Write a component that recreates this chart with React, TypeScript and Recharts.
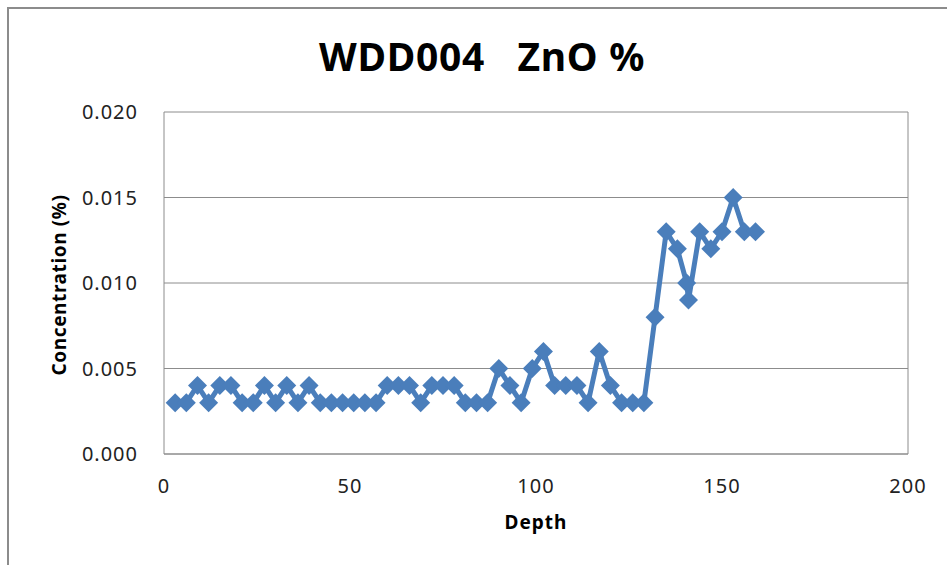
import { LineChart, Line, XAxis, YAxis, CartesianGrid, Label } from 'recharts';

// sample depths (m) and ZnO assays (%) for hole WDD004
const depths = [
  3, 6, 9, 12, 15, 18, 21, 24, 27, 30, 33, 36, 39, 42, 45, 48, 51, 54, 57, 60,
  63, 66, 69, 72, 75, 78, 81, 84, 87, 90, 93, 96, 99, 102, 105, 108, 111, 114,
  117, 120, 123, 126, 129, 132, 135, 138, 140.5, 141, 144, 147, 150, 153, 156, 159,
];
const zno = [
  0.003, 0.003, 0.004, 0.003, 0.004, 0.004, 0.003, 0.003, 0.004, 0.003, 0.004,
  0.003, 0.004, 0.003, 0.003, 0.003, 0.003, 0.003, 0.003, 0.004, 0.004, 0.004,
  0.003, 0.004, 0.004, 0.004, 0.003, 0.003, 0.003, 0.005, 0.004, 0.003, 0.005,
  0.006, 0.004, 0.004, 0.004, 0.003, 0.006, 0.004, 0.003, 0.003, 0.003, 0.008,
  0.013, 0.012, 0.01, 0.009, 0.013, 0.012, 0.013, 0.015, 0.013, 0.013,
];
const xTicks = [0, 50, 100, 150, 200];
const yTicks = [0, 0.005, 0.01, 0.015, 0.02];

const data = depths.map((depth, i) => ({ depth, zno: zno[i] }));

const BLUE = '#4a7ebb';
const GRID = '#8c8c8c';
const FONT = '"Noto Sans", sans-serif';
const tickStyle = { fontSize: 20, fill: '#222', fontFamily: FONT, letterSpacing: 1 };

// Excel-style diamond marker
const Diamond = (props: any) => {
  const { cx, cy, index } = props;
  const r = 9.5;
  return (
    <path
      key={index}
      d={`M${cx},${cy - r}L${cx + r},${cy}L${cx},${cy + r}L${cx - r},${cy}Z`}
      fill={BLUE}
    />
  );
};

export default function App() {
  return (
    <div
      style={{
        position: 'fixed',
        left: 7,
        top: 7,
        width: 938,
        height: 556,
        borderLeft: `2px solid ${GRID}`,
        borderTop: `2px solid ${GRID}`,
        background: '#fff',
      }}
    >
      <div
        style={{
          position: 'absolute',
          left: 0,
          top: 22,
          width: 946,
          textAlign: 'center',
          fontFamily: FONT,
          fontWeight: 700,
          fontSize: 39,
          letterSpacing: 0.7,
          lineHeight: '50px',
          color: '#000',
          whiteSpace: 'pre',
        }}
      >
        {'WDD004   ZnO %'}
      </div>
      <LineChart
        width={938}
        height={556}
        data={data}
        margin={{ top: 103, right: 0, bottom: 0, left: 0 }}
      >
        <CartesianGrid horizontal vertical={false} stroke={GRID} yAxisId="left" />
        <XAxis
          dataKey="depth"
          type="number"
          domain={[0, 200]}
          ticks={xTicks}
          height={111}
          tickLine={false}
          tickMargin={19}
          axisLine={{ stroke: GRID }}
          tick={tickStyle}
        >
          <Label
            value="Depth"
            position="insideTop"
            offset={62}
            style={{ fontFamily: FONT, fontWeight: 700, fontSize: 19, fill: '#000', letterSpacing: 1 }}
          />
        </XAxis>
        <YAxis
          yAxisId="left"
          type="number"
          domain={[0, 0.02]}
          ticks={yTicks}
          width={155}
          tickLine={false}
          tickMargin={20}
          axisLine={{ stroke: GRID }}
          tick={tickStyle}
          tickFormatter={(v: number) => v.toFixed(3)}
        >
          <Label
            content={({ viewBox }: any) => {
              const x = viewBox.x + 50;
              const y = viewBox.y + viewBox.height / 2 + 2;
              return (
                <text
                  x={x}
                  y={y}
                  transform={`rotate(-90 ${x} ${y})`}
                  textAnchor="middle"
                  dominantBaseline="central"
                  style={{ fontFamily: FONT, fontWeight: 700, fontSize: 19, fill: '#000', letterSpacing: 0.6 }}
                >
                  Concentration (%)
                </text>
              );
            }}
          />
        </YAxis>
        <YAxis
          yAxisId="right"
          orientation="right"
          type="number"
          domain={[0, 0.02]}
          width={39}
          tick={false}
          tickLine={false}
          axisLine={{ stroke: GRID }}
        />
        <Line
          yAxisId="left"
          dataKey="zno"
          stroke={BLUE}
          strokeWidth={5}
          strokeLinejoin="round"
          dot={<Diamond />}
          activeDot={false}
          isAnimationActive={false}
        />
      </LineChart>
    </div>
  );
}
